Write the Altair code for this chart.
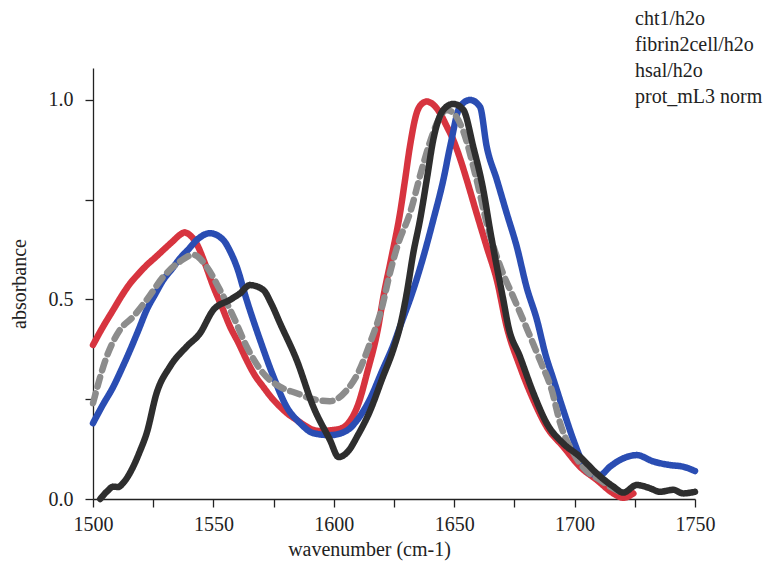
import altair as alt
import pandas as pd

series_names = ["cht1/h2o", "fibrin2cell/h2o", "hsal/h2o", "prot_mL3 norm"]

# red curve
red_w = [1500, 1504, 1508.4, 1512, 1515.4, 1519, 1522.3, 1526, 1529.2, 1533, 1536.1, 1538, 1540.5, 1543, 1546.5, 1550,
         1553.5, 1556.9, 1560.5, 1563.8, 1567, 1570.7, 1574, 1577.7, 1581, 1584.6, 1588, 1591.5, 1595, 1598.4, 1602,
         1606, 1610, 1614, 1618.5, 1620.6, 1624, 1627.5, 1629.6, 1631.6, 1634.4, 1636.5, 1638.6, 1641, 1644.1, 1646.8,
         1649.6, 1652.5, 1655.2, 1659.3, 1663.5, 1667.7, 1671.8, 1677.3, 1682.9, 1688.4, 1695.3, 1702.2, 1709.2,
         1716.1, 1720.2, 1724.4]
red_v = [0.386, 0.43, 0.474, 0.51, 0.54, 0.565, 0.586, 0.606, 0.624, 0.645, 0.662, 0.668, 0.66, 0.64, 0.59, 0.532,
         0.482, 0.432, 0.39, 0.348, 0.312, 0.281, 0.255, 0.231, 0.213, 0.198, 0.184, 0.173, 0.17, 0.172, 0.175,
         0.19, 0.235, 0.32, 0.432, 0.507, 0.607, 0.716, 0.8, 0.883, 0.967, 0.99, 0.996, 0.99, 0.967, 0.935,
         0.9, 0.852, 0.8, 0.716, 0.632, 0.549, 0.432, 0.332, 0.248, 0.181, 0.131, 0.081, 0.048,
         0.014, 0.003, 0.014]

# blue curve
blue_w = [1500, 1504, 1508.4, 1512, 1515.4, 1519, 1522.3, 1526, 1529.2, 1533, 1536.1, 1540, 1543.1, 1548.6, 1554.1,
          1557, 1559.7, 1563.8, 1569.4, 1574.9, 1580.4, 1586, 1591.5, 1598.4, 1605, 1610, 1615, 1620, 1625, 1627.5,
          1633, 1637.2, 1641.3, 1645.5, 1648.3, 1652.4, 1656.6, 1660.7, 1663.5, 1667.7, 1671.8, 1676, 1680.1, 1684.3,
          1688, 1691.2, 1695.3, 1699.5, 1702.2, 1706.4, 1710.5, 1714.7, 1718.9, 1725.8, 1732.7, 1739.6, 1745.1, 1750]
blue_v = [0.19, 0.235, 0.281, 0.327, 0.373, 0.425, 0.474, 0.515, 0.549, 0.578, 0.603, 0.628, 0.649, 0.666, 0.649,
          0.62, 0.582, 0.499, 0.398, 0.307, 0.231, 0.19, 0.165, 0.16, 0.17, 0.2, 0.25, 0.32, 0.39, 0.432,
          0.524, 0.607, 0.699, 0.8, 0.883, 0.983, 1.0, 0.983, 0.883, 0.8, 0.716, 0.632, 0.53, 0.45,
          0.36, 0.3, 0.223, 0.148, 0.106, 0.064, 0.06, 0.081, 0.098, 0.11, 0.094, 0.085, 0.081, 0.07]

# grey dashed curve
grey_w = [1500, 1505.7, 1511.2, 1516.7, 1522.3, 1529.2, 1536.1, 1541.7, 1547.2, 1552.7, 1558.3, 1563.8, 1570.7,
          1577.7, 1584.6, 1591.5, 1598.4, 1605, 1610, 1615, 1620, 1623.3, 1626.8, 1631.6, 1636.5, 1640, 1643.5,
          1646.8, 1650, 1653.1, 1659.3, 1663.5, 1669.7, 1674.5, 1680.1, 1685.6, 1690.5, 1694, 1700, 1705, 1710,
          1715, 1720]
grey_v = [0.24, 0.357, 0.424, 0.457, 0.499, 0.557, 0.595, 0.612, 0.582, 0.524, 0.457, 0.382, 0.315,
          0.281, 0.265, 0.25, 0.245, 0.27, 0.315, 0.39, 0.48, 0.566, 0.641, 0.716, 0.825, 0.896, 0.95,
          0.975, 0.965, 0.932, 0.8, 0.691, 0.574, 0.507, 0.428, 0.348, 0.273, 0.19, 0.11, 0.07, 0.05,
          0.03, 0.015]

# black thin curve
black_w = [1503, 1506, 1508.4, 1510.5, 1512.5, 1516.7, 1519.5, 1522.3, 1526.4, 1532, 1538.9, 1544.4, 1550, 1556.9,
           1561, 1565.2, 1570.7, 1574, 1577.7, 1584.6, 1591.5, 1598.4, 1602, 1606, 1610, 1615, 1620, 1625, 1627.5,
           1630.3, 1633, 1635.8, 1638.6, 1641.3, 1645.5, 1649.6, 1653.8, 1657.9, 1662.1, 1664.9, 1667.7, 1670.4,
           1672.5, 1677.3, 1682.9, 1688.4, 1695.3, 1702.2, 1709.2, 1716.1, 1720.2, 1725.8, 1731.3, 1735.4, 1741,
           1745.1, 1750]
black_v = [0.0, 0.02, 0.031, 0.03, 0.04, 0.081, 0.12, 0.165, 0.265, 0.332, 0.382, 0.415, 0.474, 0.499,
           0.515, 0.536, 0.524, 0.49, 0.44, 0.348, 0.231, 0.148, 0.105, 0.12, 0.16, 0.22, 0.3, 0.38, 0.432,
           0.516, 0.616, 0.699, 0.8, 0.9, 0.975, 0.99, 0.975, 0.883, 0.774, 0.674, 0.582, 0.499,
           0.432, 0.357, 0.265, 0.19, 0.139, 0.106, 0.064, 0.031, 0.016, 0.035, 0.027, 0.018, 0.023,
           0.014, 0.018]

x_ticks = list(range(1500, 1751, 25))
y_ticks = [0.0, 0.25, 0.5, 0.75, 1.0]

rows = []
for name, ws, vs in zip(series_names, [red_w, blue_w, grey_w, black_w], [red_v, blue_v, grey_v, black_v]):
    for i, (w, v) in enumerate(zip(ws, vs)):
        rows.append({"series": name, "wavenumber": w, "absorbance": v, "order": i})
df = pd.DataFrame(rows)

FONT = "Liberation Serif"
FS = 20

chart = alt.Chart(df).mark_line(interpolate="monotone", strokeCap="round", strokeJoin="round").encode(
    x=alt.X("wavenumber:Q",
            scale=alt.Scale(domain=[1500, 1750], nice=False, zero=False),
            axis=alt.Axis(values=x_ticks, title="wavenumber (cm-1)",
                          labelExpr="datum.value % 50 == 0 ? datum.label : ''",
                          format="d", grid=False, labelFlush=False, labelOverlap=False,
                          labelPadding=7, titleX=276, titleY=40, titleBaseline="top",
                          titleAlign="center")),
    y=alt.Y("absorbance:Q",
            scale=alt.Scale(domain=[0, 1.08], nice=False),
            axis=alt.Axis(values=y_ticks, title="absorbance",
                          labelExpr="(datum.value * 2) % 1 == 0 ? format(datum.value, '.1f') : ''",
                          grid=False, labelFlush=False, labelOverlap=False,
                          labelPadding=12, titlePadding=19)),
    color=alt.Color("series:N",
                    scale=alt.Scale(domain=series_names,
                                    range=["#d7343f", "#2a4db3", "#8c8c8c", "#2e2e2e"]),
                    legend=alt.Legend(title=None, orient="none", legendX=522, legendY=-59, offset=0,
                                      symbolOpacity=0, symbolSize=0, symbolStrokeWidth=0,
                                      labelOffset=0, padding=0, rowPadding=6,
                                      labelFont=FONT, labelFontSize=FS, labelColor="#222222",
                                      labelLimit=300)),
    strokeDash=alt.StrokeDash("series:N",
                              scale=alt.Scale(domain=series_names,
                                              range=[[1, 0], [1, 0], [10, 7], [1, 0]]),
                              legend=None),
    strokeWidth=alt.StrokeWidth("series:N",
                                scale=alt.Scale(domain=series_names, range=[6.5, 6.5, 4, 2.2]),
                                legend=None),
    order="order:Q",
).properties(
    width=602,
    height=431,
    autosize=alt.AutoSizeParams(type="none"),
    padding={"left": 93, "top": 68, "right": 77, "bottom": 63},
    background="white",
).configure_axis(
    domainColor="#222222",
    domainWidth=1.3,
    tickColor="#222222",
    tickWidth=1.3,
    tickSize=8,
    labelFont=FONT,
    labelFontSize=FS,
    labelColor="#222222",
    titleFont=FONT,
    titleFontSize=FS,
    titleFontWeight="normal",
    titleColor="#222222",
).configure_view(
    strokeWidth=0,
)

chart.save("out.html", embed_options={"renderer": "svg", "actions": False})
